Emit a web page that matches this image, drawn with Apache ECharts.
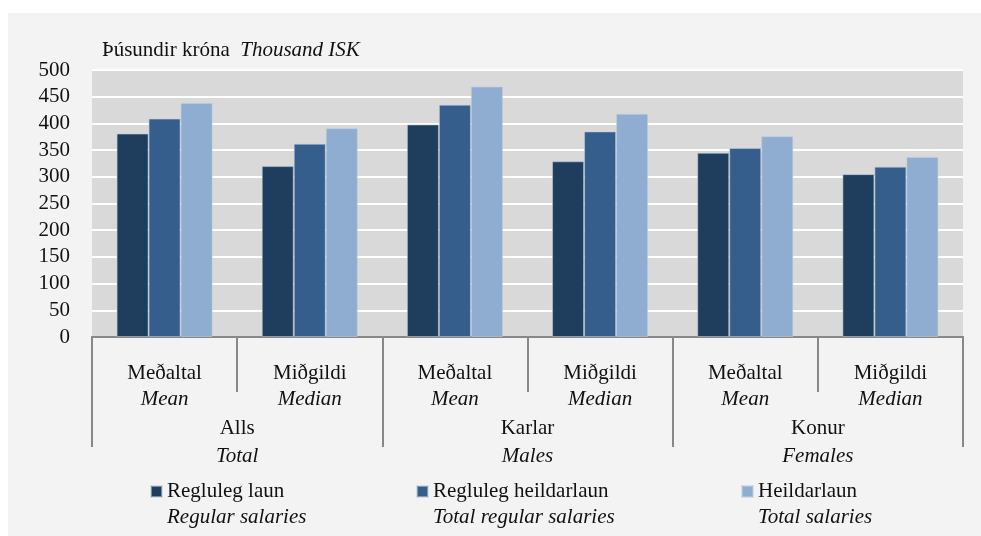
<!DOCTYPE html>
<html>
<head>
<meta charset="utf-8">
<script src="https://cdn.jsdelivr.net/npm/echarts@6/dist/echarts.min.js"></script>
<style>
html,body{margin:0;padding:0;background:#ffffff;}
#chart{width:981px;height:536px;}
</style>
</head>
<body>
<div id="chart"></div>
<script>
// ---- data ----
const subCatsIs = ['Meðaltal', 'Miðgildi', 'Meðaltal', 'Miðgildi', 'Meðaltal', 'Miðgildi'];
const subCatsEn = ['Mean', 'Median', 'Mean', 'Median', 'Mean', 'Median'];
const groupsIs = ['Alls', 'Karlar', 'Konur'];
const groupsEn = ['Total', 'Males', 'Females'];
const seriesNamesIs = ['Regluleg laun', 'Regluleg heildarlaun', 'Heildarlaun'];
const seriesNamesEn = ['Regular salaries', 'Total regular salaries', 'Total salaries'];
const reglulegLaun = [381, 320, 398, 329, 345, 305];
const reglulegHeildarlaun = [409, 362, 435, 385, 354, 319];
const heildarlaun = [438, 391, 469, 418, 376, 337];
const yTicks = [0, 50, 100, 150, 200, 250, 300, 350, 400, 450, 500];

// ---- styling ----
const FONT = 'Times New Roman, Liberation Serif, serif';
const colors = ['#1f3d5c', '#355e8c', '#8fadd1'];
const values = [reglulegLaun, reglulegHeildarlaun, heildarlaun];

const chart = echarts.init(document.getElementById('chart'));

function st(extra) {
  return Object.assign({ fontFamily: FONT, fontSize: 21, fontWeight: 'normal', color: '#111' }, extra || {});
}

const legends = [145, 411, 736].map((left, i) => ({
  show: true,
  left: left,
  top: 450,
  orient: 'horizontal',
  data: [seriesNamesIs[i]],
  icon: 'rect',
  itemWidth: 11,
  itemHeight: 11,
  itemGap: 4,
  selectedMode: false,
  formatter: name => '{e| }\n{a|' + name + '}\n{b|' + seriesNamesEn[i] + '}',
  textStyle: st({
    rich: {
      e: st({ lineHeight: 26 }),
      a: st({ lineHeight: 26 }),
      b: st({ lineHeight: 26, fontStyle: 'italic' })
    }
  })
}));

const option = {
  animation: false,
  backgroundColor: 'transparent',
  textStyle: { fontFamily: FONT },
  graphic: [{
    type: 'rect',
    z: -10,
    silent: true,
    shape: { x: 8, y: 13, width: 973, height: 523 },
    style: { fill: '#f2f3f2' }
  }],
  title: {
    left: 97,
    top: 35,
    text: '{a|Þúsundir króna}{s|  }{b|Thousand ISK}',
    textStyle: st({
      rich: {
        a: st(),
        s: st(),
        b: st({ fontStyle: 'italic' })
      }
    })
  },
  legend: legends,
  grid: {
    left: 92,
    right: 18,
    top: 70,
    bottom: 199,
    show: true,
    backgroundColor: '#d9d9d9',
    borderWidth: 0
  },
  xAxis: [
    {
      type: 'category',
      position: 'bottom',
      data: subCatsIs.map((s, i) => s + '|' + subCatsEn[i]),
      axisLine: { show: true, lineStyle: { color: '#888888', width: 2 } },
      axisTick: { show: true, interval: 0, length: 55, lineStyle: { color: '#888888', width: 2 } },
      axisLabel: st({
        interval: 0,
        margin: 23,
        formatter: v => { const p = v.split('|'); return '{a|' + p[0] + '}\n{b|' + p[1] + '}'; },
        rich: {
          a: st({ lineHeight: 26 }),
          b: st({ lineHeight: 26, fontStyle: 'italic' })
        }
      }),
      splitLine: { show: false }
    },
    {
      type: 'category',
      position: 'bottom',
      offset: 0,
      data: groupsIs.map((s, i) => s + '|' + groupsEn[i]),
      axisLine: { show: true, lineStyle: { color: '#888888', width: 2 } },
      axisTick: { show: true, interval: 0, length: 110, lineStyle: { color: '#888888', width: 2 } },
      axisLabel: st({
        interval: 0,
        margin: 77,
        formatter: v => { const p = v.split('|'); return '{a|' + p[0] + '}\n{b|' + p[1] + '}'; },
        rich: {
          a: st({ lineHeight: 28 }),
          b: st({ lineHeight: 28, fontStyle: 'italic' })
        }
      }),
      splitLine: { show: false }
    }
  ],
  yAxis: {
    type: 'value',
    min: yTicks[0],
    max: yTicks[yTicks.length - 1],
    interval: yTicks[1] - yTicks[0],
    axisLine: { show: false },
    axisTick: { show: false },
    axisLabel: st({ margin: 22 }),
    splitLine: { show: true, lineStyle: { color: '#ffffff', width: 2 } }
  },
  series: seriesNamesIs.map((name, i) => ({
    name: name,
    type: 'bar',
    xAxisIndex: 0,
    data: values[i],
    barWidth: 32,
    barGap: '0%',
    itemStyle: {
      color: colors[i],
      borderColor: 'rgba(190,205,220,0.55)',
      borderWidth: 1
    }
  }))
};

chart.setOption(option);
</script>
</body>
</html>
